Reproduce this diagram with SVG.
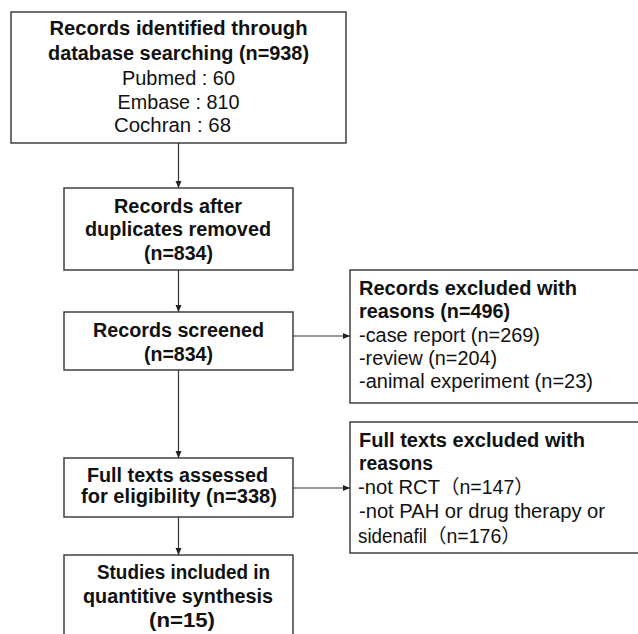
<svg xmlns="http://www.w3.org/2000/svg" width="638" height="634" viewBox="0 0 638 634">
<style>
.box{fill:#fff;stroke:#333;stroke-width:1.4}
.b{font-family:"Liberation Sans","Noto Sans CJK SC",sans-serif;font-size:19.5px;font-weight:bold;fill:#111}
.r{font-family:"Liberation Sans","Noto Sans CJK SC",sans-serif;font-size:19.5px;fill:#111}
.c{text-anchor:middle}
.ln{stroke:#333;stroke-width:1.2;fill:none;marker-end:url(#ah)}
</style>
<defs>
<marker id="ah" markerWidth="8" markerHeight="8" refX="7" refY="4" orient="auto" markerUnits="userSpaceOnUse">
<path d="M0,1 L7,4 L0,7 Z" fill="#222"/>
</marker>
</defs>
<rect width="638" height="634" fill="#fff"/>
<g id="connectors">
<line class="ln" x1="178.5" y1="143" x2="178.5" y2="188"/>
<line class="ln" x1="178.5" y1="270" x2="178.5" y2="312"/>
<line class="ln" x1="178.5" y1="370" x2="178.5" y2="458"/>
<line class="ln" x1="178.5" y1="517" x2="178.5" y2="555"/>
<line class="ln" x1="293" y1="336" x2="350" y2="336"/>
<line class="ln" x1="293" y1="488" x2="350" y2="488"/>
</g>
<g id="n1">
<rect class="box" x="11" y="12" width="335" height="131"/>
<text class="b c" x="178.5" y="35" textLength="258" lengthAdjust="spacingAndGlyphs">Records identified through</text>
<text class="b c" x="178.5" y="60" textLength="261" lengthAdjust="spacingAndGlyphs">database searching (n=938)</text>
<text class="r c" x="178.5" y="85" textLength="113" lengthAdjust="spacingAndGlyphs">Pubmed : 60</text>
<text class="r c" x="178.5" y="109" textLength="122" lengthAdjust="spacingAndGlyphs">Embase : 810</text>
<text class="r c" x="172.5" y="132" textLength="117" lengthAdjust="spacingAndGlyphs">Cochran : 68</text>
</g>
<g id="n2">
<rect class="box" x="64" y="188" width="229" height="82"/>
<text class="b c" x="178" y="213" textLength="128" lengthAdjust="spacingAndGlyphs">Records after</text>
<text class="b c" x="178" y="236" textLength="186" lengthAdjust="spacingAndGlyphs">duplicates removed</text>
<text class="b c" x="178.5" y="260" textLength="69" lengthAdjust="spacingAndGlyphs">(n=834)</text>
</g>
<g id="n3">
<rect class="box" x="64" y="312" width="229" height="58"/>
<text class="b c" x="178.5" y="337" textLength="171" lengthAdjust="spacingAndGlyphs">Records screened</text>
<text class="b c" x="178.5" y="361" textLength="69" lengthAdjust="spacingAndGlyphs">(n=834)</text>
</g>
<g id="n4">
<rect class="box" x="350" y="270" width="295" height="133"/>
<text class="b" x="359" y="295" textLength="218" lengthAdjust="spacingAndGlyphs">Records excluded with</text>
<text class="b" x="359" y="318" textLength="151" lengthAdjust="spacingAndGlyphs">reasons (n=496)</text>
<text class="r" x="359" y="342" textLength="181" lengthAdjust="spacingAndGlyphs">-case report (n=269)</text>
<text class="r" x="359" y="365" textLength="138" lengthAdjust="spacingAndGlyphs">-review (n=204)</text>
<text class="r" x="359" y="388" textLength="234" lengthAdjust="spacingAndGlyphs">-animal experiment (n=23)</text>
</g>
<g id="n5">
<rect class="box" x="64" y="458" width="229" height="59"/>
<text class="b c" x="177.5" y="482" textLength="181" lengthAdjust="spacingAndGlyphs">Full texts assessed</text>
<text class="b c" x="179" y="503" textLength="196" lengthAdjust="spacingAndGlyphs">for eligibility (n=338)</text>
</g>
<g id="n6">
<rect class="box" x="350" y="422" width="295" height="131"/>
<text class="b" x="359" y="447" textLength="226" lengthAdjust="spacingAndGlyphs">Full texts excluded with</text>
<text class="b" x="359" y="470" textLength="74" lengthAdjust="spacingAndGlyphs">reasons</text>
<text class="r" x="358" y="494"><tspan textLength="82" lengthAdjust="spacingAndGlyphs">-not RCT</tspan>（n=147）</text>
<text class="r" x="359" y="518" textLength="246" lengthAdjust="spacingAndGlyphs">-not PAH or drug therapy or</text>
<text class="r" x="358" y="543"><tspan textLength="69" lengthAdjust="spacingAndGlyphs">sidenafil</tspan>（n=176）</text>
</g>
<g id="n7">
<rect class="box" x="64" y="555" width="229" height="90"/>
<text class="b c" x="183.5" y="579" textLength="173" lengthAdjust="spacingAndGlyphs">Studies included in</text>
<text class="b c" x="178" y="603" textLength="190" lengthAdjust="spacingAndGlyphs">quantitive synthesis</text>
<text class="b c" x="182" y="627" textLength="66" lengthAdjust="spacingAndGlyphs">(n=15)</text>
</g>
</svg>
